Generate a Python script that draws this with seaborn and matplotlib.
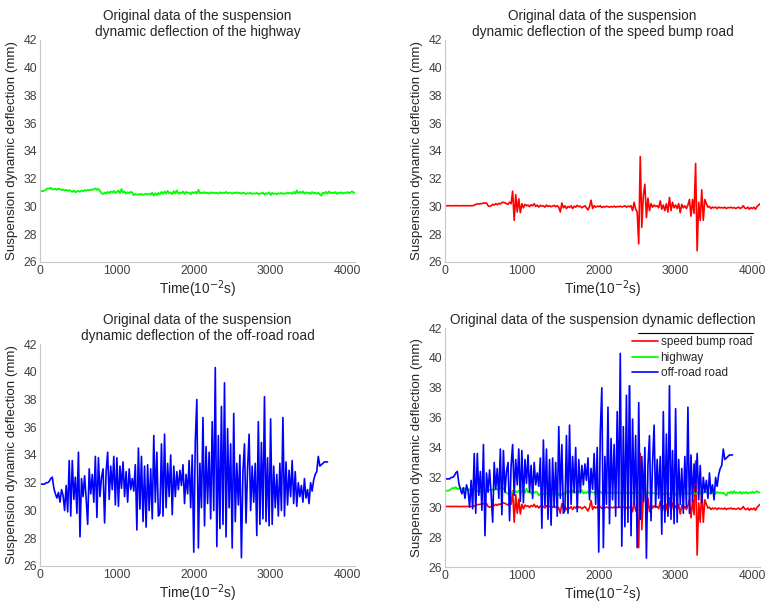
import numpy as np
import pandas as pd
import matplotlib
matplotlib.use("Agg")
import matplotlib.pyplot as plt
import seaborn as sns

# time grids (10^-2 s)
t_full = np.arange(0, 4101, 20)
t_off = np.arange(0, 3741, 20)

highway = [
    31.08, 31.12, 31.10, 31.15, 31.22, 31.30, 31.28, 31.35, 31.22, 31.25,
    31.28, 31.20, 31.30, 31.24, 31.18, 31.22, 31.15, 31.20, 31.12, 31.18,
    31.10, 31.05, 31.15, 31.02, 31.08, 31.12, 31.06, 31.15, 31.10, 31.18,
    31.12, 31.20, 31.15, 31.22, 31.18, 31.25, 31.30, 31.20, 31.26, 31.12,
    30.95, 30.90, 31.00, 30.92, 31.05, 30.95, 31.08, 31.00, 31.12, 30.98,
    31.05, 31.15, 30.95, 31.25, 31.00, 31.08, 30.92, 31.02, 30.95, 31.05,
    31.00, 30.80, 30.90, 30.85, 30.88, 30.86, 30.90, 30.84, 30.88, 30.90,
    30.86, 30.92, 30.85, 31.00, 30.78, 30.95, 30.82, 30.98, 30.88, 31.05,
    30.90, 31.08, 30.92, 31.12, 30.95, 31.02, 30.88, 31.10, 30.94, 31.15,
    30.92, 31.00, 30.95, 31.08, 30.90, 31.05, 30.98, 31.00, 30.88, 31.04,
    30.95, 31.05, 30.92, 31.20, 30.95, 31.00, 30.96, 31.04, 30.94, 31.00,
    30.92, 31.02, 30.96, 31.00, 30.95, 30.98, 30.92, 31.02, 30.95, 31.00,
    30.96, 31.05, 30.94, 31.00, 30.98, 30.92, 31.00, 30.96, 31.02, 30.95,
    30.98, 30.92, 31.00, 30.95, 30.90, 30.96, 30.93, 30.98, 30.90, 30.95,
    30.92, 30.98, 30.88, 30.95, 30.92, 31.00, 30.85, 30.96, 30.90, 31.02,
    30.82, 30.98, 30.90, 30.94, 30.88, 30.95, 30.92, 30.98, 30.90, 30.95,
    30.92, 31.00, 30.94, 30.98, 30.90, 31.05, 30.92, 31.15, 30.95, 31.05,
    30.98, 31.08, 30.92, 31.02, 30.95, 31.00, 30.90, 31.04, 30.94, 31.00,
    30.92, 30.98, 30.88, 30.78, 31.00, 30.94, 31.05, 30.92, 31.08, 30.95,
    31.00, 30.94, 31.04, 30.90, 31.00, 30.95, 31.02, 30.92, 31.00, 30.96,
    31.04, 30.95, 31.02, 31.08, 30.98, 31.00,
]

speed_bump = [
    30.05, 30.05, 30.05, 30.06, 30.05, 30.05, 30.05, 30.06, 30.05, 30.05,
    30.05, 30.05, 30.06, 30.05, 30.05, 30.06, 30.05, 30.05, 30.06, 30.08,
    30.15, 30.18, 30.18, 30.20, 30.20, 30.25, 30.24, 30.25, 30.05, 30.00,
    30.05, 30.15, 30.10, 30.20, 30.12, 30.22, 30.18, 30.28, 30.30, 30.26,
    30.20, 30.15, 30.30, 30.20, 31.10, 29.00, 30.85, 29.60, 30.55, 29.55,
    30.20, 29.90, 30.15, 30.05, 30.10, 29.98, 30.12, 30.05, 30.20, 30.00,
    30.10, 29.95, 30.08, 30.02, 30.05, 29.95, 30.10, 30.00, 30.05, 29.98,
    30.02, 30.08, 29.98, 30.05, 29.95, 29.60, 30.25, 29.90, 30.05, 29.85,
    30.00, 29.92, 30.05, 29.85, 30.02, 29.95, 30.08, 29.98, 30.02, 29.90,
    29.98, 30.05, 29.90, 29.75, 30.00, 30.45, 29.85, 30.05, 29.95, 30.02,
    29.98, 30.05, 29.92, 30.00, 29.95, 30.02, 29.98, 29.95, 30.00, 29.96,
    30.02, 29.95, 30.00, 29.98, 30.02, 29.96, 30.00, 30.04, 29.95, 30.02,
    29.98, 30.05, 29.70, 30.30, 29.80, 29.60, 27.30, 33.60, 28.50, 30.80,
    31.60, 29.20, 30.60, 29.70, 30.20, 29.95, 30.10, 30.00, 30.05, 29.90,
    30.40, 29.80, 30.10, 29.70, 30.20, 29.60, 30.65, 29.70, 30.30, 29.90,
    30.10, 29.85, 30.20, 29.55, 30.15, 29.90, 30.05, 29.85, 30.10, 30.50,
    29.30, 30.50, 29.50, 33.10, 26.80, 30.30, 29.00, 31.20, 29.00, 30.50,
    30.20, 29.95, 30.00, 29.85, 29.95, 29.90, 29.95, 29.85, 29.95, 29.90,
    29.92, 29.88, 29.95, 29.85, 29.92, 29.90, 29.95, 29.88, 29.92, 29.86,
    29.90, 29.95, 29.85, 29.92, 30.05, 29.88, 29.85, 29.95, 29.80, 29.92,
    29.85, 29.95, 29.80, 30.00, 30.10, 30.20,
]

off_road = [
    31.9, 31.9, 31.9, 31.9, 32.0, 32.0, 32.1, 32.3, 32.4, 31.6,
    31.2, 30.9, 31.3, 30.6, 31.5, 31.1, 30.0, 31.8, 29.9, 33.6,
    29.6, 33.6, 30.8, 32.4, 29.8, 34.2, 28.1, 32.3, 31.0, 32.5,
    30.9, 29.0, 33.0, 31.2, 32.6, 30.6, 33.9, 29.5, 33.8, 31.0,
    32.4, 33.0, 29.1, 32.8, 34.2, 30.8, 33.2, 31.5, 33.9, 30.4,
    33.8, 30.3, 33.2, 31.6, 33.5, 31.0, 32.8, 30.6, 33.0, 31.5,
    32.3, 31.4, 33.3, 28.6, 34.5, 30.1, 33.9, 29.2, 33.2, 28.8,
    33.3, 30.0, 33.0, 29.4, 35.4, 30.6, 34.2, 29.6, 29.8, 34.8,
    29.6, 35.5, 30.2, 33.4, 31.0, 34.0, 29.7, 33.2, 31.0, 32.8,
    31.5, 32.9, 31.8, 33.3, 30.5, 32.6, 31.2, 33.6, 30.2, 34.0,
    27.0, 35.0, 38.0, 27.3, 33.4, 30.2, 36.7, 28.9, 34.6, 30.5,
    34.2, 29.4, 36.4, 30.0, 40.3, 27.4, 35.4, 28.7, 37.5, 29.0,
    39.2, 28.1, 35.9, 30.2, 34.8, 27.3, 37.0, 29.2, 33.4, 30.4,
    34.0, 26.6, 32.8, 34.8, 29.1, 33.0, 35.5, 30.0, 33.2, 30.6,
    33.4, 28.2, 36.4, 29.0, 34.9, 29.4, 38.2, 29.2, 33.8, 28.9,
    36.6, 29.0, 33.2, 30.2, 32.6, 29.6, 33.4, 30.0, 36.7, 29.6,
    33.5, 30.4, 32.9, 31.0, 33.6, 30.5, 32.8, 30.3, 32.0, 31.0,
    31.8, 30.6, 32.3, 30.9, 31.5, 30.5, 32.0, 31.4, 32.2, 32.6,
    32.8, 33.9, 33.2, 33.3, 33.4, 33.5, 33.5, 33.5,
]

yticks = [26, 28, 30, 32, 34, 36, 38, 40, 42]
xticks = [0, 1000, 2000, 3000, 4000]

df_hw = pd.DataFrame({"t": t_full, "y": highway})
df_sb = pd.DataFrame({"t": t_full, "y": speed_bump})
df_or = pd.DataFrame({"t": t_off, "y": off_road})

sns.set_theme(style="white")
plt.rcParams["font.family"] = ["Liberation Sans", "DejaVu Sans"]

fig = plt.figure(figsize=(7.65, 6.12), dpi=100)
ax1 = fig.add_axes([0.0523, 0.572, 0.412, 0.3627])
ax2 = fig.add_axes([0.5817, 0.572, 0.412, 0.3627])
ax3 = fig.add_axes([0.0523, 0.0752, 0.412, 0.3627])
ax4 = fig.add_axes([0.5817, 0.0735, 0.412, 0.3905])

sns.lineplot(data=df_hw, x="t", y="y", ax=ax1, color="#00ff00", linewidth=1.3)
sns.lineplot(data=df_sb, x="t", y="y", ax=ax2, color="#ff0000", linewidth=1.2)
sns.lineplot(data=df_or, x="t", y="y", ax=ax3, color="#0000ff", linewidth=1.2)
sns.lineplot(data=df_sb, x="t", y="y", ax=ax4, color="#ff0000", linewidth=1.2, label="speed bump road")
sns.lineplot(data=df_hw, x="t", y="y", ax=ax4, color="#00ff00", linewidth=1.3, label="highway")
sns.lineplot(data=df_or, x="t", y="y", ax=ax4, color="#0000ff", linewidth=1.2, label="off-road road")

titles = [
    "Original data of the suspension\ndynamic deflection of the highway",
    "Original data of the suspension\ndynamic deflection of the speed bump road",
    "Original data of the suspension\ndynamic deflection of the off-road road",
    "Original data of the suspension dynamic deflection",
]

for ax, title in zip([ax1, ax2, ax3, ax4], titles):
    ax.set_xlim(0, 4100)
    ax.set_ylim(26, 42)
    ax.set_xticks(xticks)
    ax.set_yticks(yticks)
    ax.set_title(title, fontsize=9.8, color="#262626", pad=3, linespacing=1.2)
    ax.set_xlabel("Time(10$^{-2}$s)", fontsize=9.8, color="#262626", labelpad=1)
    ax.set_ylabel("Suspension dynamic deflection (mm)", fontsize=9.6, color="#262626")
    ax.yaxis.set_label_coords(-0.07, 0.5)
    ax.tick_params(axis="both", direction="in", length=2.5, width=0.6, color="#bdbdbd",
                   labelsize=8.8, labelcolor="#404040", pad=2)
    sns.despine(ax=ax)
    for s in ["left", "bottom"]:
        ax.spines[s].set_color("#c8c8c8")
        ax.spines[s].set_linewidth(0.8)

leg = ax4.legend(loc="upper right", fontsize=8.5, frameon=True, fancybox=False,
                 edgecolor="white", framealpha=1, borderaxespad=0.3,
                 handlelength=2.2, handletextpad=0.2, labelspacing=0.3)
for txt in leg.get_texts():
    txt.set_color("#262626")
ax4.plot([0.613, 0.978], [0.979, 0.979], transform=ax4.transAxes, color="black",
         linewidth=0.8, zorder=10)

fig.savefig("out.png", dpi=100, facecolor="white")
